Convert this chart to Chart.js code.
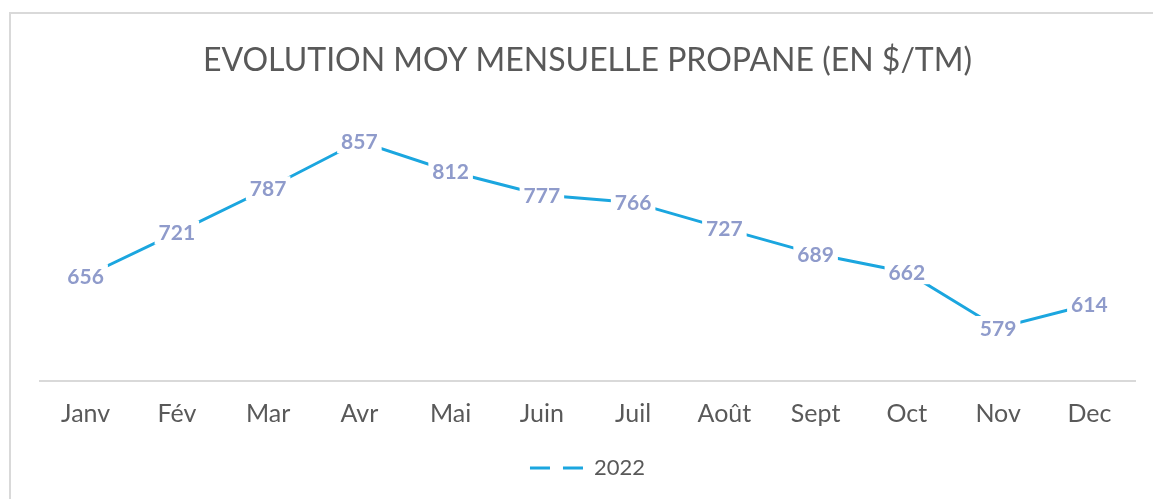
<!DOCTYPE html>
<html>
<head>
<meta charset="utf-8">
<script src="https://cdn.jsdelivr.net/npm/chart.js@4.4.1/dist/chart.umd.min.js"></script>
<style>
  html, body { margin: 0; padding: 0; background: #ffffff; }
  body { width: 1153px; height: 499px; overflow: hidden; position: relative; }
  #frame { position: absolute; left: 9px; top: 12px; width: 1160px; height: 500px;
           border-left: 2px solid #d9d9d9; border-top: 2px solid #d9d9d9; box-sizing: border-box; }
  #wrap { position: absolute; left: 0; top: 0; width: 1153px; height: 499px; }
</style>
</head>
<body>
<div id="frame"></div>
<div id="wrap"><canvas id="c" width="1153" height="499"></canvas></div>
<script>
const titleText = "EVOLUTION MOY MENSUELLE PROPANE (EN $/TM)";
const months = ["Janv", "Fév", "Mar", "Avr", "Mai", "Juin", "Juil", "Août", "Sept", "Oct", "Nov", "Dec"];
const seriesName = "2022";
const values2022 = [656, 721, 787, 857, 812, 777, 766, 727, 689, 662, 579, 614];

const FONT = "Lato, 'Open Sans', sans-serif";

const labelPlugin = {
  id: 'pointLabels',
  afterDatasetsDraw(chart) {
    const ctx = chart.ctx;
    const meta = chart.getDatasetMeta(0);
    const data = chart.data.datasets[0].data;
    ctx.save();
    ctx.font = "bold 21px " + FONT;
    ctx.textAlign = 'center';
    ctx.textBaseline = 'middle';
    meta.data.forEach((pt, i) => {
      const txt = String(data[i]);
      const w = ctx.measureText(txt).width;
      ctx.fillStyle = '#ffffff';
      ctx.fillRect(pt.x - w / 2 - 4, pt.y - 12, w + 8, 24);
      ctx.fillStyle = '#8f9bcb';
      ctx.fillText(txt, pt.x, pt.y + 1);
    });
    ctx.restore();
  }
};

new Chart(document.getElementById('c'), {
  type: 'line',
  data: {
    labels: months,
    datasets: [{
      label: seriesName,
      data: values2022,
      borderColor: '#1ba6df',
      backgroundColor: '#1ba6df',
      borderWidth: 3,
      pointRadius: 0,
      tension: 0,
      fill: false
    }]
  },
  options: {
    responsive: false,
    animation: false,
    devicePixelRatio: 1,
    layout: { padding: { left: 40, right: 18, top: 41, bottom: 10 } },
    plugins: {
      title: {
        display: true,
        text: titleText,
        color: '#595959',
        font: { family: FONT, size: 32, weight: 'normal' },
        padding: { top: 0, bottom: 33 }
      },
      legend: {
        display: true,
        position: 'bottom',
        labels: {
          color: '#595959',
          font: { family: FONT, size: 22 },
          usePointStyle: true,
          pointStyle: 'line',
          pointStyleWidth: 53,
          generateLabels(chart) {
            const ds = chart.data.datasets[0];
            return [{
              text: ds.label,
              fillStyle: ds.borderColor,
              strokeStyle: ds.borderColor,
              fontColor: '#595959',
              lineWidth: 3,
              lineDash: [20, 13],
              pointStyle: 'line',
              datasetIndex: 0,
              hidden: false
            }];
          }
        }
      },
      tooltip: { enabled: false }
    },
    scales: {
      x: {
        offset: true,
        grid: { display: false, drawTicks: false },
        border: { display: true, color: '#d9d9d9', width: 2 },
        ticks: { color: '#595959', font: { family: FONT, size: 25 }, padding: 18 }
      },
      y: {
        display: false,
        min: 500,
        max: 900
      }
    }
  },
  plugins: [labelPlugin]
});
</script>
</body>
</html>
